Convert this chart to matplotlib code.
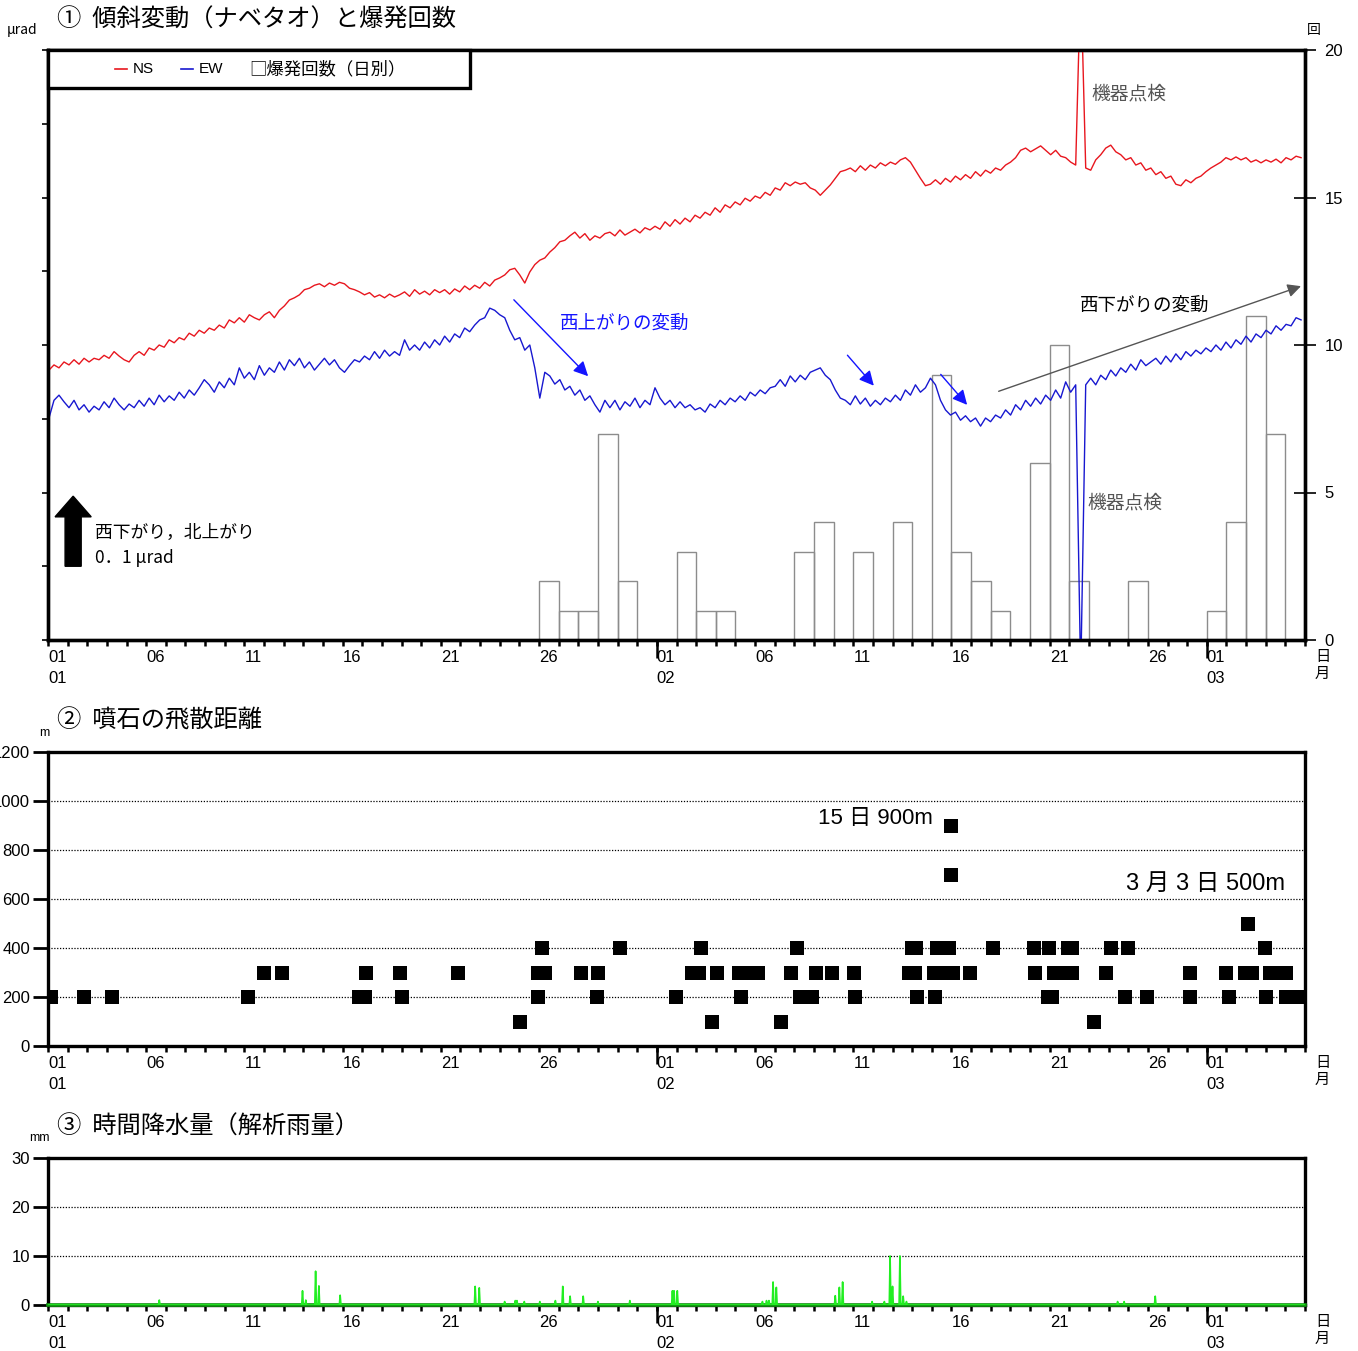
import numpy as np
import matplotlib
matplotlib.use("Agg")
import matplotlib.pyplot as plt
from matplotlib.lines import Line2D
from matplotlib.patches import Rectangle, FancyArrow

JP = ["Noto Sans CJK JP", "DejaVu Sans"]
NUM = ["Liberation Sans", "DejaVu Sans"]
plt.rcParams["font.family"] = JP

W, H = 1358, 1351

# ---- time axis: days since 01 Jan 00:00, up to 06 Mar 00:00
N_DAYS = 64
tick_labels = {0: "01\n01", 5: "06", 10: "11", 15: "16", 20: "21", 25: "26",
               31: "01\n02", 36: "06", 41: "11", 46: "16", 51: "21", 56: "26",
               59: "01\n03"}
month_starts = [31, 59]

# ---- (1) tilt (micro rad, arbitrary offset), one sample every ~6 h
TILT_START = 0.05
TILT_STEP = 0.255
ns_tilt = [
    0.366, 0.373, 0.369, 0.377, 0.373, 0.380, 0.374, 0.382, 0.377, 0.382,
    0.380, 0.386, 0.382, 0.391, 0.385, 0.380, 0.377, 0.386, 0.391, 0.386,
    0.396, 0.393, 0.400, 0.397, 0.407, 0.403, 0.410, 0.407, 0.416, 0.412,
    0.420, 0.416, 0.423, 0.420, 0.427, 0.423, 0.434, 0.430, 0.437, 0.431,
    0.441, 0.437, 0.434, 0.441, 0.445, 0.437, 0.447, 0.453, 0.461, 0.464,
    0.468, 0.475, 0.477, 0.481, 0.483, 0.479, 0.484, 0.481, 0.485, 0.483,
    0.477, 0.475, 0.472, 0.468, 0.471, 0.465, 0.468, 0.464, 0.469, 0.465,
    0.468, 0.472, 0.466, 0.475, 0.469, 0.473, 0.468, 0.475, 0.471, 0.475,
    0.469, 0.476, 0.472, 0.480, 0.475, 0.481, 0.477, 0.485, 0.480, 0.488,
    0.491, 0.495, 0.502, 0.504, 0.495, 0.484, 0.499, 0.509, 0.515, 0.518,
    0.526, 0.532, 0.540, 0.542, 0.548, 0.553, 0.545, 0.551, 0.542, 0.548,
    0.545, 0.551, 0.553, 0.548, 0.556, 0.549, 0.553, 0.557, 0.552, 0.559,
    0.556, 0.561, 0.557, 0.567, 0.561, 0.570, 0.564, 0.572, 0.567, 0.576,
    0.572, 0.580, 0.576, 0.586, 0.580, 0.590, 0.586, 0.594, 0.590, 0.599,
    0.595, 0.602, 0.599, 0.607, 0.603, 0.613, 0.610, 0.620, 0.616, 0.621,
    0.618, 0.620, 0.613, 0.610, 0.603, 0.610, 0.617, 0.626, 0.635, 0.637,
    0.640, 0.635, 0.643, 0.637, 0.644, 0.640, 0.647, 0.643, 0.648, 0.645,
    0.651, 0.654, 0.648, 0.637, 0.626, 0.616, 0.618, 0.624, 0.618, 0.626,
    0.621, 0.629, 0.624, 0.631, 0.626, 0.635, 0.629, 0.637, 0.633, 0.640,
    0.637, 0.644, 0.648, 0.654, 0.664, 0.667, 0.662, 0.666, 0.670, 0.664,
    0.658, 0.664, 0.656, 0.654, 0.648, 0.644, 0.900, 0.640, 0.637, 0.651,
    0.658, 0.667, 0.671, 0.662, 0.658, 0.651, 0.654, 0.644, 0.647, 0.637,
    0.640, 0.631, 0.635, 0.626, 0.629, 0.618, 0.616, 0.624, 0.620, 0.626,
    0.629, 0.635, 0.640, 0.644, 0.648, 0.654, 0.651, 0.655, 0.651, 0.654,
    0.648, 0.651, 0.647, 0.651, 0.648, 0.652, 0.647, 0.654, 0.651, 0.656,
    0.654]
ew_tilt = [
    0.301, 0.325, 0.332, 0.323, 0.315, 0.325, 0.312, 0.319, 0.309, 0.317,
    0.312, 0.323, 0.315, 0.328, 0.319, 0.312, 0.320, 0.315, 0.325, 0.317,
    0.328, 0.319, 0.332, 0.323, 0.331, 0.325, 0.336, 0.328, 0.339, 0.332,
    0.342, 0.353, 0.346, 0.336, 0.350, 0.342, 0.355, 0.346, 0.369, 0.355,
    0.363, 0.353, 0.372, 0.359, 0.369, 0.363, 0.377, 0.366, 0.380, 0.372,
    0.382, 0.369, 0.377, 0.366, 0.374, 0.382, 0.373, 0.380, 0.369, 0.363,
    0.372, 0.380, 0.377, 0.385, 0.380, 0.391, 0.382, 0.393, 0.385, 0.391,
    0.386, 0.407, 0.393, 0.400, 0.393, 0.404, 0.396, 0.407, 0.400, 0.412,
    0.404, 0.415, 0.410, 0.423, 0.418, 0.427, 0.434, 0.437, 0.450, 0.447,
    0.441, 0.437, 0.420, 0.407, 0.410, 0.393, 0.400, 0.369, 0.328, 0.363,
    0.358, 0.347, 0.353, 0.339, 0.344, 0.332, 0.339, 0.325, 0.331, 0.319,
    0.309, 0.325, 0.315, 0.325, 0.312, 0.323, 0.317, 0.328, 0.315, 0.325,
    0.319, 0.342, 0.328, 0.319, 0.325, 0.315, 0.323, 0.315, 0.319, 0.312,
    0.315, 0.309, 0.320, 0.315, 0.325, 0.319, 0.328, 0.323, 0.331, 0.325,
    0.336, 0.331, 0.339, 0.334, 0.342, 0.344, 0.353, 0.344, 0.358, 0.350,
    0.359, 0.353, 0.363, 0.366, 0.369, 0.359, 0.353, 0.339, 0.328, 0.325,
    0.319, 0.331, 0.320, 0.328, 0.317, 0.325, 0.319, 0.328, 0.323, 0.332,
    0.325, 0.339, 0.332, 0.346, 0.336, 0.342, 0.355, 0.346, 0.325, 0.312,
    0.305, 0.309, 0.298, 0.304, 0.296, 0.301, 0.290, 0.301, 0.296, 0.305,
    0.301, 0.312, 0.305, 0.319, 0.312, 0.325, 0.317, 0.328, 0.320, 0.332,
    0.325, 0.339, 0.328, 0.350, 0.336, 0.346, -0.050, 0.346, 0.355, 0.346,
    0.359, 0.353, 0.366, 0.358, 0.369, 0.363, 0.374, 0.366, 0.380, 0.372,
    0.377, 0.382, 0.374, 0.385, 0.377, 0.388, 0.380, 0.391, 0.385, 0.393,
    0.388, 0.396, 0.391, 0.400, 0.393, 0.404, 0.396, 0.407, 0.401, 0.412,
    0.404, 0.415, 0.410, 0.420, 0.415, 0.426, 0.420, 0.428, 0.426, 0.437,
    0.434]

# daily explosion counts (days with at least one explosion)
explosion_days = [25, 26, 27, 28, 29, 32, 33, 34, 38, 39, 41, 43, 45, 46, 47, 48,
                  50, 51, 52, 55, 59, 60, 61, 62]
explosion_counts = [2, 1, 1, 7, 2, 3, 1, 1, 3, 4, 3, 4, 9, 3, 2, 1,
                    6, 10, 2, 2, 1, 4, 11, 7]

# ---- (2) distance of ballistic rocks (m)
rock_days = [24.03, 33.83, 37.30, 53.27,
             0.15, 1.84, 3.27, 10.20, 15.82, 16.12, 18.01, 24.95, 27.96, 31.99, 35.26,
             38.27, 38.88, 41.07, 44.23, 45.15, 50.92, 51.12, 54.85, 55.97, 58.16, 60.15,
             61.99, 63.01, 63.37, 63.93,
             11.02, 11.89, 16.17, 17.91, 20.87, 24.95, 25.31, 27.14, 28.01, 32.81, 33.16,
             34.08, 35.20, 35.66, 36.17, 37.81, 39.08, 39.90, 41.02, 43.83, 44.13, 45.10,
             45.56, 46.07, 46.94, 50.26, 51.22, 51.68, 52.14, 53.88, 58.16, 60.00, 60.92,
             61.28, 62.24, 62.60, 63.01,
             25.15, 29.13, 33.27, 38.11, 43.98, 44.18, 45.26, 45.56, 45.87, 48.11, 50.20,
             50.97, 51.94, 52.14, 54.13, 55.00, 61.94,
             61.12, 45.97, 45.97]
rock_dist = [100] * 4 + [200] * 26 + [300] * 37 + [400] * 17 + [500, 700, 900]

# ---- (3) hourly rainfall (mm), non-zero hours only
rain_days = [5.66, 12.97, 13.11, 13.62, 13.79, 14.88, 21.73, 21.95, 23.27, 23.78, 23.86,
             24.23, 25.05, 25.82, 26.19, 26.60, 27.23, 28.02, 29.64, 31.79, 31.89, 32.06,
             36.39, 36.58, 36.70, 36.90, 37.08, 40.10, 40.31, 40.46, 41.97, 42.60, 42.86,
             42.98, 43.37, 43.53, 43.71, 54.47, 54.81, 56.38]
rain_mm = [1.0, 2.9, 1.0, 6.9, 3.9, 2.0, 3.8, 3.5, 0.7, 0.9, 0.9,
           0.7, 0.7, 0.9, 3.8, 1.8, 1.8, 0.7, 0.9, 2.9, 2.9, 2.9,
           0.7, 0.9, 0.9, 4.7, 3.6, 1.9, 3.6, 4.7, 0.7, 0.7, 10.0,
           3.8, 10.0, 1.8, 0.7, 0.7, 0.7, 1.8]


fig = plt.figure(figsize=(W / 100, H / 100), dpi=100)


def ptxt(x, y, s, **kw):
    return fig.text(x / W, 1 - y / H, s, **kw)


def time_axis(ax, bottom_px):
    days = np.arange(0, N_DAYS + 1)
    ax.set_xlim(0, N_DAYS)
    ax.set_xticks(days)
    ax.set_xticklabels([tick_labels.get(d, "") for d in days], ha="left",
                       fontsize=12, family=NUM, linespacing=1.55)
    ax.set_xticks(month_starts, minor=True)
    ax.xaxis.remove_overlapping_locs = False
    ax.tick_params(axis="x", which="major", direction="out", length=4, width=1.8, pad=3)
    ax.tick_params(axis="x", which="minor", direction="out", length=13, width=1.8)
    for sp in ax.spines.values():
        sp.set_linewidth(2.4)
    ptxt(1315, bottom_px + 8, "日\n月", fontsize=11, va="top", ha="left", linespacing=1.0)


# ================= panel 1 =================
ax1 = fig.add_axes([48 / W, 1 - 640 / H, 1257 / W, 590 / H])
ax1r = ax1.twinx()
ax1r.bar(explosion_days, explosion_counts, width=1, align="edge", fill=False,
         edgecolor="#8c8c8c", linewidth=1.0)
ax1r.set_ylim(0, 20)
ax1r.set_yticks([0, 5, 10, 15, 20])
ax1r.tick_params(axis="y", direction="inout", length=16, width=1.2, labelsize=12, pad=6)
for lab in ax1r.get_yticklabels():
    lab.set_family(NUM)
for sp in ax1r.spines.values():
    sp.set_linewidth(2.4)

tilt_days = TILT_START + TILT_STEP * np.arange(len(ns_tilt))
ax1.set_zorder(ax1r.get_zorder() + 1)
ax1.patch.set_visible(False)
ax1.plot(tilt_days, ns_tilt, color="#e8161e", lw=1.0)
ax1.plot(tilt_days, ew_tilt, color="#1818d0", lw=1.0)
ax1.set_ylim(0, 0.8)
ax1.set_yticks(np.arange(0, 0.81, 0.1))
ax1.set_yticklabels([])
ax1.tick_params(axis="y", direction="out", length=4, width=1.2)
time_axis(ax1, 640)

# legend box
ax1.add_patch(Rectangle((0, 1 - 38 / 590), 422 / 1257, 38 / 590, transform=ax1.transAxes,
                        facecolor="white", edgecolor="black", lw=2.4, zorder=5, clip_on=False))
fig.add_artist(Line2D([115 / W, 127 / W], [1 - 69 / H] * 2, color="#e8161e", lw=1.2))
fig.add_artist(Line2D([181 / W, 193 / W], [1 - 69 / H] * 2, color="#1818d0", lw=1.2))
ptxt(133, 69, "NS", fontsize=11, va="center", family=NUM)
ptxt(199, 69, "EW", fontsize=11, va="center", family=NUM)
ptxt(249, 69, "□爆発回数（日別）", fontsize=12.5, va="center")

# tilt scale arrow (0.1 micro rad)
ax1.add_patch(FancyArrow(1.28, 0.10, 0, 0.095, width=0.82, head_width=1.84,
                         head_length=0.028, length_includes_head=True,
                         color="black", zorder=4))
ptxt(95, 533, "西下がり，北上がり", fontsize=12.8, va="center")
ptxt(95, 558, "0．1 μrad", fontsize=12.5, va="center")

# trend annotations
blue_head = dict(arrowstyle="-|>", color="#1414ff", lw=1.0, mutation_scale=22)
ax1.annotate("", xy=(27.60, 0.355), xytext=(23.62, 0.464), arrowprops=blue_head)
ax1.annotate("", xy=(42.14, 0.342), xytext=(40.61, 0.389), arrowprops=blue_head)
ax1.annotate("", xy=(46.89, 0.316), xytext=(45.36, 0.363), arrowprops=blue_head)
ax1.annotate("", xy=(63.93, 0.481), xytext=(48.27, 0.336),
             arrowprops=dict(arrowstyle="-|>", color="#555555", lw=1.0, mutation_scale=20))
ptxt(560, 324, "西上がりの変動", fontsize=13.3, color="#1414ff", va="center")
ptxt(1080, 306, "西下がりの変動", fontsize=13.3, color="black", va="center")
ptxt(1091, 94, "機器点検", fontsize=13.5, color="#555555", va="center")
ptxt(1087, 503, "機器点検", fontsize=13.5, color="#555555", va="center")

ptxt(57, 20, "①  傾斜変動（ナベタオ）と爆発回数", fontsize=17.5, va="center")
ptxt(7, 30, "μrad", fontsize=10, va="center")
ptxt(1307, 30, "回", fontsize=10, va="center")

# ================= panel 2 =================
ax2 = fig.add_axes([48 / W, 1 - 1046 / H, 1257 / W, 294 / H])
ax2.plot(rock_days, rock_dist, "s", color="black", ms=10, mew=0, zorder=3)
ax2.set_ylim(0, 1200)
ax2.set_yticks(np.arange(0, 1201, 200))
ax2.grid(axis="y", color="black", lw=0.9, ls=(0, (1, 1.3)))
ax2.tick_params(axis="y", direction="out", length=11, width=2, labelsize=12, pad=2)
for lab in ax2.get_yticklabels():
    lab.set_family(NUM)
time_axis(ax2, 1046)
ptxt(875, 818, "15 日 900m", fontsize=16, ha="center", va="center",
     family=["Liberation Sans", "Noto Sans CJK JP"])
ptxt(1205, 884, "3 月 3 日 500m", fontsize=17, ha="center", va="center",
     family=["Liberation Sans", "Noto Sans CJK JP"])
ptxt(57, 721, "②  噴石の飛散距離", fontsize=17.5, va="center")
ptxt(39, 733, "m", fontsize=9, va="center", family=NUM)

# ================= panel 3 =================
ax3 = fig.add_axes([48 / W, 1 - 1305 / H, 1257 / W, 147 / H])
rain = np.zeros(N_DAYS * 24 + 1)
for d, v in zip(rain_days, rain_mm):
    rain[int(round(d * 24))] = v
ax3.plot(np.arange(rain.size) / 24, rain, color="#22ee22", lw=1.2, zorder=3)
ax3.axhline(0, color="#139a13", lw=2.6, zorder=2.6, clip_on=False)
ax3.set_ylim(0, 30)
ax3.set_yticks([0, 10, 20, 30])
ax3.grid(axis="y", color="black", lw=0.9, ls=(0, (1, 1.3)))
ax3.tick_params(axis="y", direction="out", length=11, width=2, labelsize=12, pad=2)
for lab in ax3.get_yticklabels():
    lab.set_family(NUM)
time_axis(ax3, 1305)
ptxt(57, 1127, "③  時間降水量（解析雨量）", fontsize=17.5, va="center")
ptxt(29, 1138, "mm", fontsize=9, va="center", family=NUM)

fig.savefig("out.png", dpi=100)
